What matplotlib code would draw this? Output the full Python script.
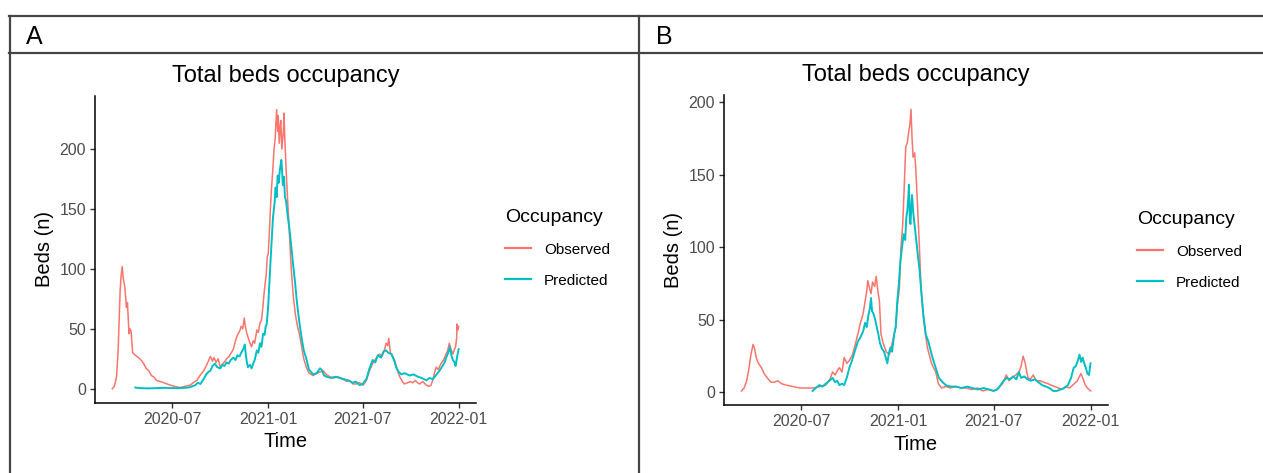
import matplotlib
matplotlib.use("Agg")
import matplotlib.pyplot as plt
import matplotlib.dates as mdates
from matplotlib.lines import Line2D
import pandas as pd

plt.rcParams['font.family'] = ['Liberation Sans', 'DejaVu Sans']

W, H = 1263, 473

# ---------------- DATA ----------------
a_obs_dates = ["2020-03-08","2020-03-12","2020-03-16","2020-03-19","2020-03-23","2020-03-25","2020-03-27","2020-03-29",
"2020-04-01","2020-04-04","2020-04-06","2020-04-09","2020-04-11","2020-04-13","2020-04-16","2020-04-21","2020-04-27",
"2020-05-02","2020-05-07","2020-05-12","2020-05-17","2020-05-22","2020-05-26","2020-06-01","2020-06-08","2020-06-15",
"2020-06-27","2020-07-05","2020-07-16","2020-07-25","2020-08-04","2020-08-10","2020-08-17","2020-08-23","2020-08-30",
"2020-09-05","2020-09-09","2020-09-12","2020-09-16","2020-09-19","2020-09-23","2020-09-27","2020-10-01","2020-10-06",
"2020-10-10","2020-10-13","2020-10-18","2020-10-22","2020-10-26","2020-10-30","2020-11-03","2020-11-07","2020-11-10",
"2020-11-13","2020-11-16","2020-11-18","2020-11-21","2020-11-24","2020-11-27","2020-11-30","2020-12-03","2020-12-06",
"2020-12-10","2020-12-13","2020-12-16","2020-12-19","2020-12-22","2020-12-24","2020-12-26","2020-12-28","2020-12-30",
"2021-01-01","2021-01-03","2021-01-05","2021-01-07","2021-01-10","2021-01-12","2021-01-14","2021-01-16","2021-01-17",
"2021-01-19","2021-01-20","2021-01-22","2021-01-24","2021-01-25","2021-01-27","2021-01-28","2021-01-30","2021-01-31",
"2021-02-02","2021-02-05","2021-02-08","2021-02-11","2021-02-14","2021-02-18","2021-02-22","2021-02-26","2021-03-02",
"2021-03-06","2021-03-10","2021-03-15","2021-03-20","2021-03-28","2021-04-04","2021-04-10","2021-04-16","2021-04-22",
"2021-04-29","2021-05-06","2021-05-14","2021-05-24","2021-06-01","2021-06-06","2021-06-12","2021-06-18","2021-06-25",
"2021-07-02","2021-07-08","2021-07-14","2021-07-20","2021-07-26","2021-08-02","2021-08-07","2021-08-12","2021-08-15",
"2021-08-18","2021-08-20","2021-08-23","2021-08-25","2021-08-31","2021-09-05","2021-09-10","2021-09-15","2021-09-19",
"2021-09-25","2021-10-01","2021-10-05","2021-10-10","2021-10-14","2021-10-18","2021-10-24","2021-10-31","2021-11-05",
"2021-11-09","2021-11-13","2021-11-16","2021-11-19","2021-11-23","2021-11-28","2021-12-03","2021-12-08","2021-12-11",
"2021-12-14","2021-12-17","2021-12-21","2021-12-24","2021-12-26","2021-12-28","2021-12-29","2021-12-30","2022-01-01"]
a_obs_vals = [0,2,10,30,82,95,102,92,
85,68,72,46,50,48,30,28,26,
24,21,17,15,11,10,7,6,5,
3,2,1,2,3,5,7,11,15,
20,24,27,23,26,22,25,18,21,
23,25,27,30,33,40,45,48,52,
50,59,52,46,42,38,35,40,38,
49,47,55,57,70,80,88,95,110,
113,130,150,166,185,200,208,225,233,
215,228,205,220,224,200,205,215,230,
205,175,150,124,100,77,62,52,45,
35,25,18,13,11,13,14,15,12,
10,9,10,8,6,7,4,4,5,
3,7,15,21,25,29,27,33,38,
36,42,30,29,24,16,10,6,4,
5,6,5,7,5,4,6,3,2,
3,8,14,18,16,21,24,29,32,
38,33,29,33,35,42,54,49,52]

a_pred_dates = ["2020-04-21","2020-05-01","2020-05-15","2020-06-01","2020-06-15","2020-07-01","2020-07-15","2020-08-01",
"2020-08-08","2020-08-14","2020-08-19","2020-08-24","2020-08-30","2020-09-04","2020-09-08","2020-09-12","2020-09-16",
"2020-09-21","2020-09-25","2020-10-01","2020-10-05","2020-10-09","2020-10-13","2020-10-17","2020-10-21","2020-10-26",
"2020-10-30","2020-11-03","2020-11-07","2020-11-10","2020-11-14","2020-11-17","2020-11-19","2020-11-21","2020-11-23",
"2020-11-27","2020-11-30","2020-12-03","2020-12-06","2020-12-10","2020-12-13","2020-12-16","2020-12-19","2020-12-22",
"2020-12-25","2020-12-27","2020-12-29","2021-01-01","2021-01-04","2021-01-07","2021-01-10","2021-01-13","2021-01-15",
"2021-01-17","2021-01-19","2021-01-21","2021-01-23","2021-01-26","2021-01-27","2021-01-29","2021-01-31","2021-02-02",
"2021-02-04","2021-02-07","2021-02-11","2021-02-15","2021-02-18","2021-02-21","2021-02-25","2021-03-02","2021-03-06",
"2021-03-10","2021-03-15","2021-03-20","2021-03-28","2021-04-04","2021-04-10","2021-04-13","2021-04-18","2021-04-23",
"2021-05-01","2021-05-10","2021-05-18","2021-05-26","2021-06-03","2021-06-12","2021-06-18","2021-06-25","2021-07-01",
"2021-07-08","2021-07-14","2021-07-20","2021-07-25","2021-07-30","2021-08-05","2021-08-10","2021-08-15","2021-08-19",
"2021-08-25","2021-08-30","2021-09-03","2021-09-08","2021-09-13","2021-09-20","2021-09-29","2021-10-06","2021-10-15",
"2021-10-22","2021-10-31","2021-11-06","2021-11-12","2021-11-18","2021-11-25","2021-12-01","2021-12-05","2021-12-08",
"2021-12-12","2021-12-15","2021-12-18","2021-12-21","2021-12-24","2021-12-26","2021-12-28","2021-12-30","2022-01-01"]
a_pred_vals = [1,0.5,0.3,0.5,0.8,0.5,0.5,1,
2,3,5,4,8,12,14,15,19,
21,18,17,20,19,22,21,24,26,
24,28,27,30,33,37,28,22,18,
20,17,21,24,32,30,38,35,46,
45,52,54,70,96,120,143,155,168,
160,178,172,182,191,185,170,177,160,
157,145,132,115,102,90,72,54,42,
32,25,16,12,13,17,16,11,10,
9,10,9,8,7,5,6,3,4,
8,17,24,22,28,26,31,32,30,
29,24,18,14,12,13,11,12,10,
9,7,9,8,11,15,19,22,26,
30,35,28,24,22,19,24,29,33]

b_obs_dates = ["2020-03-09","2020-03-14","2020-03-19","2020-03-23","2020-03-27","2020-03-31","2020-04-03","2020-04-06",
"2020-04-09","2020-04-12","2020-04-16","2020-04-21","2020-04-27","2020-05-04","2020-05-10","2020-05-17","2020-05-24",
"2020-06-02","2020-06-15","2020-06-28","2020-07-10","2020-07-23","2020-08-05","2020-08-16","2020-08-24","2020-08-29",
"2020-09-03","2020-09-07","2020-09-11","2020-09-16","2020-09-20","2020-09-25","2020-09-30","2020-10-06","2020-10-11",
"2020-10-16","2020-10-21","2020-10-26","2020-10-30","2020-11-02","2020-11-04","2020-11-07","2020-11-10","2020-11-13",
"2020-11-17","2020-11-20","2020-11-23","2020-11-26","2020-11-29","2020-12-03","2020-12-09","2020-12-15","2020-12-18",
"2020-12-21","2020-12-24","2020-12-27","2020-12-30","2021-01-03","2021-01-06","2021-01-09","2021-01-12","2021-01-15",
"2021-01-18","2021-01-20","2021-01-23","2021-01-25","2021-01-27","2021-01-29","2021-02-01","2021-02-03","2021-02-06",
"2021-02-10","2021-02-13","2021-02-18","2021-02-25","2021-03-05","2021-03-13","2021-03-18","2021-03-24","2021-04-01",
"2021-04-10","2021-04-20","2021-05-01","2021-05-10","2021-05-20","2021-06-01","2021-06-10","2021-06-20","2021-07-01",
"2021-07-10","2021-07-18","2021-07-25","2021-07-30","2021-08-05","2021-08-12","2021-08-18","2021-08-22","2021-08-26",
"2021-08-30","2021-09-04","2021-09-09","2021-09-14","2021-09-20","2021-09-27","2021-10-04","2021-10-12","2021-10-18",
"2021-10-25","2021-11-01","2021-11-08","2021-11-15","2021-11-22","2021-12-01","2021-12-07","2021-12-11","2021-12-14",
"2021-12-18","2021-12-22","2021-12-26","2022-01-01"]
b_obs_vals = [1,3,8,16,26,33,30,24,
21,19,17,13,10,7,7,8,6,
5,4,3,3,3,4,5,9,14,
12,15,17,14,24,20,22,26,33,
40,48,54,63,70,77,72,68,76,
73,80,70,63,40,34,28,26,30,
35,40,45,60,72,100,114,140,169,
172,178,185,195,175,162,165,155,132,
100,72,50,31,20,14,6,3,4,
3,4,3,3,2,3,1,2,1,
3,6,12,8,10,12,14,18,25,
20,10,9,12,8,8,7,6,5,
4,3,2,4,3,6,8,11,13,
9,5,3,1]

b_pred_dates = ["2020-07-22","2020-07-28","2020-08-04","2020-08-10","2020-08-16","2020-08-23","2020-08-29","2020-09-03",
"2020-09-07","2020-09-11","2020-09-16","2020-09-20","2020-09-25","2020-09-30","2020-10-05","2020-10-10","2020-10-16",
"2020-10-21","2020-10-26","2020-10-30","2020-11-02","2020-11-05","2020-11-08","2020-11-10","2020-11-12","2020-11-15",
"2020-11-18","2020-11-21","2020-11-24","2020-11-27","2020-12-01","2020-12-05","2020-12-08","2020-12-11","2020-12-14",
"2020-12-17","2020-12-20","2020-12-24","2020-12-27","2020-12-30","2021-01-02","2021-01-05","2021-01-08","2021-01-11",
"2021-01-14","2021-01-16","2021-01-18","2021-01-20","2021-01-21","2021-01-23","2021-01-24","2021-01-26","2021-01-27",
"2021-01-29","2021-01-31","2021-02-03","2021-02-06","2021-02-10","2021-02-13","2021-02-17","2021-02-22","2021-02-27",
"2021-03-06","2021-03-12","2021-03-19","2021-03-26","2021-04-01","2021-04-10","2021-04-20","2021-05-01","2021-05-12",
"2021-05-22","2021-06-01","2021-06-12","2021-06-22","2021-07-01","2021-07-08","2021-07-14","2021-07-20","2021-07-26",
"2021-08-01","2021-08-07","2021-08-13","2021-08-18","2021-08-22","2021-08-28","2021-09-03","2021-09-10","2021-09-17",
"2021-09-24","2021-10-01","2021-10-08","2021-10-15","2021-10-22","2021-10-29","2021-11-05","2021-11-12","2021-11-19",
"2021-11-25","2021-11-30","2021-12-04","2021-12-08","2021-12-11","2021-12-14","2021-12-17","2021-12-20","2021-12-23",
"2021-12-26","2021-12-29","2022-01-01"]
b_pred_vals = [1,3,5,4,6,8,10,7,
8,5,6,5,10,17,22,28,35,
38,42,48,45,53,58,65,56,54,
50,45,40,34,30,28,24,20,27,
31,28,40,45,63,75,91,100,109,
105,120,125,135,143,118,116,130,136,
125,118,108,98,85,72,55,40,35,
25,18,10,7,5,4,4,3,4,
3,2,3,2,1,2,5,8,10,
9,11,9,14,10,11,9,8,9,
7,5,4,3,1,1,2,3,5,
10,17,18,22,26,21,24,20,17,
13,12,20]

series_labels = ["Observed", "Predicted"]
series_colors = ["#F8766D", "#00BFC4"]
x_tick_dates = ["2020-07-01", "2021-01-01", "2021-07-01", "2022-01-01"]
y_ticks_a = [0, 50, 100, 150, 200]
y_ticks_b = [0, 50, 100, 150, 200]
panel_labels = ["A", "B"]
title_text = "Total beds occupancy"
xlabel_text = "Time"
ylabel_text = "Beds (n)"
legend_title = "Occupancy"

# ---------------- FIGURE ----------------
fig = plt.figure(figsize=(W / 100, H / 100), dpi=100)
fig.patch.set_facecolor("white")

def fx(px):
    return px / W

def fy(py):
    return 1 - py / H

# frame lines
frame_col = "#454545"
flw = 1.6
for (x0, y0, x1, y1) in [(9, 16, W, 16), (9, 53, W, 53), (9.5, 16, 9.5, H), (639, 16, 639, H)]:
    fig.add_artist(Line2D([fx(x0), fx(x1)], [fy(y0), fy(y1)], color=frame_col, lw=flw,
                          transform=fig.transFigure))

fig.text(fx(26), fy(37), panel_labels[0], fontsize=18, ha="left", va="center", color="black")
fig.text(fx(656), fy(37), panel_labels[1], fontsize=18, ha="left", va="center", color="black")

panels = [
    dict(rect=(95, 95.7, 476, 402.7), obs=(a_obs_dates, a_obs_vals), pred=(a_pred_dates, a_pred_vals),
         yt=y_ticks_a, leg=(505, 209)),
    dict(rect=(724, 95.3, 1108, 405), obs=(b_obs_dates, b_obs_vals), pred=(b_pred_dates, b_pred_vals),
         yt=y_ticks_b, leg=(1137, 211)),
]

for p in panels:
    l, t, r, b = p["rect"]
    ax = fig.add_axes([fx(l), fy(b), (r - l) / W, (b - t) / H])
    od, ov = p["obs"]
    pdd, pv = p["pred"]
    ax.plot(pd.to_datetime(od), ov, color=series_colors[0], lw=1.1, label=series_labels[0])
    ax.plot(pd.to_datetime(pdd), pv, color=series_colors[1], lw=1.4, label=series_labels[1])
    ax.margins(x=0.05, y=0.05)
    ax.set_xticks(pd.to_datetime(x_tick_dates))
    ax.xaxis.set_major_formatter(mdates.DateFormatter("%Y-%m"))
    ax.set_yticks(p["yt"])
    for s in ["top", "right"]:
        ax.spines[s].set_visible(False)
    for s in ["left", "bottom"]:
        ax.spines[s].set_linewidth(1.1)
        ax.spines[s].set_color("black")
    ax.tick_params(axis="both", length=3.5, width=1.0, color="#333333", labelsize=11.5,
                   labelcolor="#4D4D4D", pad=3)
    ax.set_xlabel(xlabel_text, fontsize=14.5, labelpad=4)
    ax.set_ylabel(ylabel_text, fontsize=14.5, labelpad=4)
    ax.set_title(title_text, fontsize=17, pad=10)
    leg = ax.legend(title=legend_title, loc="upper left", frameon=False,
                    bbox_to_anchor=(fx(p["leg"][0]), fy(p["leg"][1])), bbox_transform=fig.transFigure,
                    fontsize=11, title_fontsize=14, handlelength=1.7, handletextpad=0.85,
                    labelspacing=1.1, borderpad=0, borderaxespad=0, alignment="left")
    for ln in leg.get_lines():
        ln.set_linewidth(1.6)

fig.savefig("out.png", dpi=100, facecolor="white")
